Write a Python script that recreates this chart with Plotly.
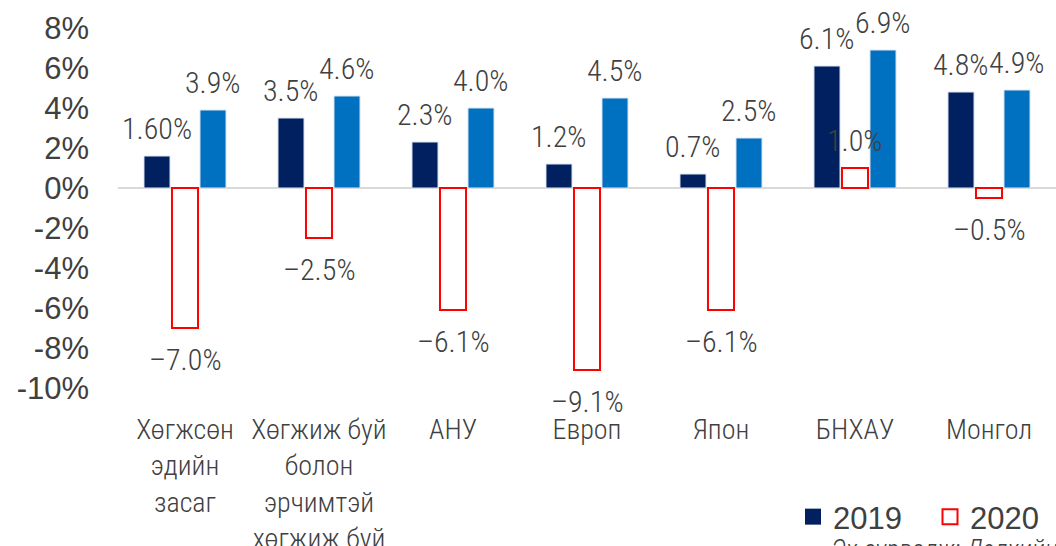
import plotly.graph_objects as go

categories = [
    "Хөгжсөн<br>эдийн<br>засаг",
    "Хөгжиж буй<br>болон<br>эрчимтэй<br>хөгжиж буй",
    "АНУ",
    "Европ",
    "Япон",
    "БНХАУ",
    "Монгол",
]
series_names = ["2019", "2020", "2021"]
v2019 = [1.6, 3.5, 2.3, 1.2, 0.7, 6.1, 4.8]
v2020 = [-7.0, -2.5, -6.1, -9.1, -6.1, 1.0, -0.5]
v2021 = [3.9, 4.6, 4.0, 4.5, 2.5, 6.9, 4.9]
lbl2019 = ["1.60%", "3.5%", "2.3%", "1.2%", "0.7%", "6.1%", "4.8%"]
lbl2020 = ["–7.0%", "–2.5%", "–6.1%", "–9.1%", "–6.1%", "1.0%", "–0.5%"]
lbl2021 = ["3.9%", "4.6%", "4.0%", "4.5%", "2.5%", "6.9%", "4.9%"]
y_ticks = [8, 6, 4, 2, 0, -2, -4, -6, -8, -10]
y_ticktext = ["8%", "6%", "4%", "2%", "0%", "-2%", "-4%", "-6%", "-8%", "-10%"]
source_text = "Эх сурвалж: Дэлхийн банк"

COND = "Roboto Condensed, sans-serif"
REG = "Liberation Sans, Arial, sans-serif"
TXT = "#404040"
C2019, C2020, C2021 = "#002060", "#ff0000", "#0070c0"

fig = go.Figure()
fig.add_trace(go.Bar(name=series_names[0], x=categories, y=v2019, showlegend=False,
                     marker=dict(color=C2019, line=dict(color="#dfe6f0", width=1))))
fig.add_trace(go.Bar(name=series_names[1], x=categories, y=v2020, showlegend=False,
                     marker=dict(color="white", line=dict(color=C2020, width=2))))
fig.add_trace(go.Bar(name=series_names[2], x=categories, y=v2021, showlegend=False,
                     marker=dict(color=C2021, line=dict(color="#dfe6f0", width=1))))

# legend entries (larger square swatches)
fig.add_trace(go.Scatter(name=series_names[0], x=[None], y=[None], mode="markers",
                         marker=dict(symbol="square", size=17, color=C2019, line=dict(width=0))))
fig.add_trace(go.Scatter(name=series_names[1], x=[None], y=[None], mode="markers",
                         marker=dict(symbol="square", size=15, color="white", line=dict(color=C2020, width=2))))

offsets = [-28, 0, 28]
for vals, lbls, dx in [(v2019, lbl2019, offsets[0]), (v2020, lbl2020, offsets[1]), (v2021, lbl2021, offsets[2])]:
    for c, v, t in zip(categories, vals, lbls):
        fig.add_annotation(x=c, y=v, xref="x", yref="y", text=t, showarrow=False,
                           xshift=dx, yshift=28 if v >= 0 else -31,
                           font=dict(family=COND, size=30, color=TXT, weight=300))

fig.add_annotation(x=(829 - 118) / 938, y=(388 - 532) / 360, xref="paper", yref="paper",
                   text="<i>" + source_text + "</i>",
                   showarrow=False, xanchor="left", yanchor="top",
                   font=dict(family=COND, size=27, color=TXT, weight=300))

fig.update_layout(
    width=1056, height=546,
    margin=dict(l=118, r=0, t=28, b=158, autoexpand=False),
    paper_bgcolor="white", plot_bgcolor="white",
    barmode="group", bargap=0.373, bargroupgap=0.07,
    showlegend=True,
    legend=dict(orientation="h", x=(793 - 118) / 938, xanchor="left", y=(388 - 517) / 360, yanchor="middle",
                font=dict(family=REG, size=31, color=TXT), bgcolor="rgba(0,0,0,0)",
                itemwidth=30, entrywidth=92, traceorder="normal"),
    xaxis=dict(showgrid=False, showline=False, ticks="", tickangle=0,
               tickfont=dict(family=COND, size=28, color=TXT, weight=300),
               ticklabelstandoff=22, automargin=False),
    yaxis=dict(range=[-10, 8], tickvals=y_ticks, ticktext=y_ticktext, showgrid=False,
               zeroline=True, zerolinecolor="#d9d9d9", zerolinewidth=1.5, automargin=False,
               tickfont=dict(family=REG, size=31, color=TXT), ticklabelstandoff=28),
)

fig.write_html("out.html", config={"displayModeBar": False},
               post_script="document.body.style.margin='0';document.body.style.overflow='hidden';")
